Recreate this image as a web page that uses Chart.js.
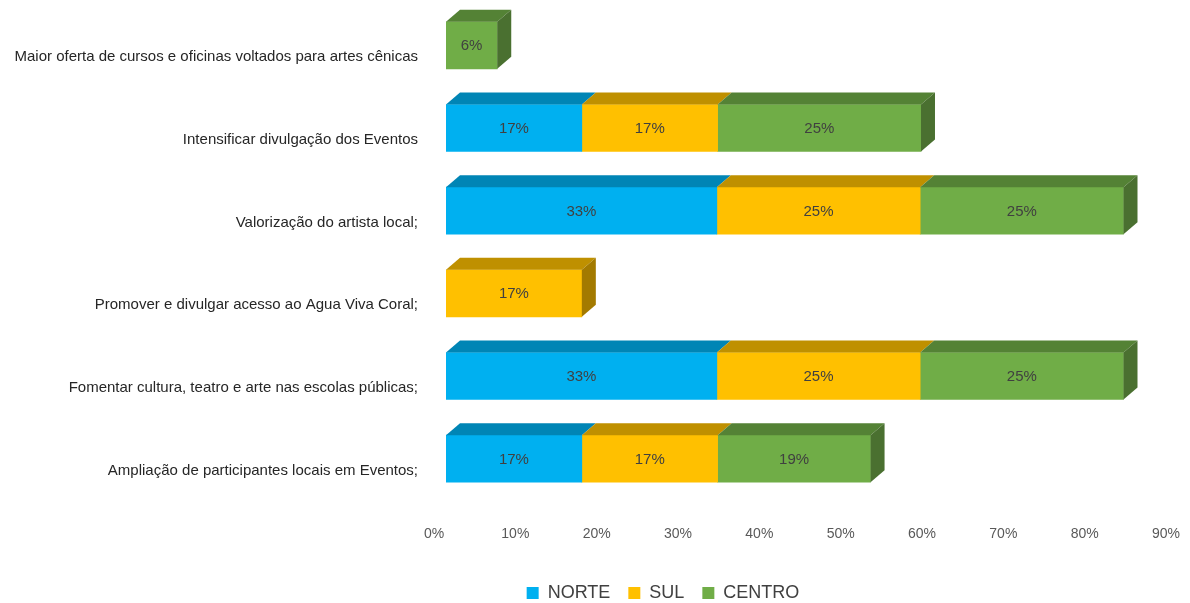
<!DOCTYPE html>
<html>
<head>
<meta charset="utf-8">
<script src="https://cdn.jsdelivr.net/npm/chart.js@4"></script>
<style>
  html, body { margin: 0; padding: 0; background: #fff; }
  #wrap { width: 1190px; height: 603px; }
</style>
</head>
<body>
<div id="wrap"><canvas id="grafico"></canvas></div>
<script>
// Categorias (de cima para baixo)
const categorias = [
    'Maior oferta de cursos e oficinas voltados para artes cênicas',
    'Intensificar divulgação dos Eventos',
    'Valorização do artista local;',
    'Promover e divulgar acesso ao Agua Viva Coral;',
    'Fomentar cultura, teatro e arte nas escolas públicas;',
    'Ampliação de participantes locais em Eventos;'
];

// Valores (%) por região
const norte  = [null, 16.7, 33.3, null, 33.3, 16.7];
const sul    = [null, 16.7, 25,   16.7, 25,   16.7];
const centro = [6.3,  25,   25,   null, 25,   18.8];

// Rótulos exibidos nas barras
const rotNorte  = [null, '17%', '33%', null, '33%', '17%'];
const rotSul    = [null, '17%', '25%', '17%', '25%', '17%'];
const rotCentro = ['6%', '25%', '25%', null, '25%', '19%'];

const ticksX = [0, 10, 20, 30, 40, 50, 60, 70, 80, 90];

const FONTE = "'Liberation Sans', Arial, sans-serif";

// cores: frente, topo, lateral
const cores = {
    NORTE:  ['#00B0F0', '#0085B5', '#006E96'],
    SUL:    ['#FFC000', '#BF9000', '#A37A00'],
    CENTRO: ['#70AD47', '#548235', '#4A7030']
};

const DX = 14, DY = 12;

// Plugin para simular o efeito 3D e escrever os valores
const efeito3D = {
    id: 'efeito3D',
    afterLayout(chart) {
        // legenda centralizada um pouco à direita, como no original
        chart.legend.left += 74;
        chart.legend.right += 74;
    },
    afterDatasetsDraw(chart) {
        const ctx = chart.ctx;
        const nSets = chart.data.datasets.length;
        ctx.save();
        chart.data.labels.forEach((_, i) => {
            let ultimo = -1;
            for (let d = 0; d < nSets; d++) {
                if (chart.data.datasets[d].data[i] != null) ultimo = d;
            }
            for (let d = 0; d < nSets; d++) {
                const ds = chart.data.datasets[d];
                if (ds.data[i] == null) continue;
                const bar = chart.getDatasetMeta(d).data[i];
                const x0 = bar.base, x1 = bar.x;
                const y0 = bar.y - bar.height / 2, y1 = bar.y + bar.height / 2;
                const c = cores[ds.label];
                // topo
                ctx.fillStyle = c[1];
                ctx.beginPath();
                ctx.moveTo(x0, y0);
                ctx.lineTo(x1, y0);
                ctx.lineTo(x1 + DX, y0 - DY);
                ctx.lineTo(x0 + DX, y0 - DY);
                ctx.closePath();
                ctx.fill();
                // lateral
                if (d === ultimo) {
                    ctx.fillStyle = c[2];
                    ctx.beginPath();
                    ctx.moveTo(x1, y0);
                    ctx.lineTo(x1 + DX, y0 - DY);
                    ctx.lineTo(x1 + DX, y1 - DY);
                    ctx.lineTo(x1, y1);
                    ctx.closePath();
                    ctx.fill();
                }
                // valor
                const rot = ds.rotulos[i];
                if (rot) {
                    ctx.fillStyle = '#404040';
                    ctx.font = '15px ' + FONTE;
                    ctx.textAlign = 'center';
                    ctx.textBaseline = 'middle';
                    ctx.fillText(rot, (x0 + x1) / 2, bar.y + 1);
                }
            }
        });
        ctx.restore();
    }
};

const ctx = document.getElementById('grafico').getContext('2d');
const grafico = new Chart(ctx, {
    type: 'bar',
    data: {
        labels: categorias,
        datasets: [
            { label: 'NORTE',  data: norte,  rotulos: rotNorte,  backgroundColor: cores.NORTE[0] },
            { label: 'SUL',    data: sul,    rotulos: rotSul,    backgroundColor: cores.SUL[0] },
            { label: 'CENTRO', data: centro, rotulos: rotCentro, backgroundColor: cores.CENTRO[0] }
        ]
    },
    options: {
        indexAxis: 'y',
        responsive: true,
        maintainAspectRatio: false,
        animation: false,
        layout: { padding: { top: 4, right: 12, bottom: -9, left: 0 } },
        datasets: {
            bar: { barThickness: 47, borderWidth: 0 }
        },
        scales: {
            x: {
                stacked: true,
                min: 0,
                max: 90,
                afterBuildTicks(scale) {
                    scale.ticks = ticksX.map(v => ({ value: v }));
                },
                afterFit(scale) {
                    scale.height = 66;
                    scale.paddingLeft = 0;
                    scale.paddingRight = 0;
                },
                grid: { display: false, drawTicks: false },
                border: { display: false },
                ticks: {
                    callback: v => v + '%',
                    color: '#595959',
                    font: { family: FONTE, size: 14 },
                    padding: 26,
                    labelOffset: -12,
                    maxRotation: 0,
                    autoSkip: false
                }
            },
            y: {
                stacked: true,
                afterFit(scale) {
                    scale.width = 446;
                    scale.paddingTop = 0;
                    scale.paddingBottom = 0;
                },
                grid: { display: false, drawTicks: false },
                border: { display: false },
                ticks: {
                    color: '#262626',
                    font: { family: FONTE, size: 15 },
                    padding: 28,
                    labelOffset: 12,
                    autoSkip: false
                }
            }
        },
        plugins: {
            tooltip: { enabled: false },
            legend: {
                position: 'bottom',
                labels: {
                    color: '#404040',
                    font: { family: FONTE, size: 18 },
                    boxWidth: 12,
                    boxHeight: 12,
                    padding: 18
                }
            }
        }
    },
    plugins: [efeito3D]
});
</script>
</body>
</html>
